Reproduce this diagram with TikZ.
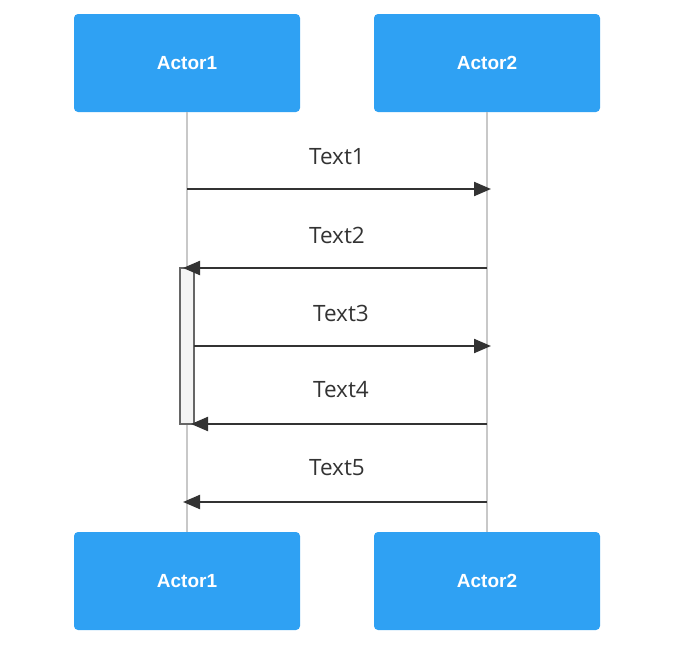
\documentclass[tikz,border=0pt]{standalone}
\usepackage{fontspec}
\setmainfont{Open Sans}
\newfontfamily\actorfont{Liberation Sans}
\usetikzlibrary{arrows.meta}
\definecolor{actorblue}{RGB}{47,161,243}
\definecolor{lifegray}{RGB}{200,200,200}
\definecolor{msgdark}{RGB}{51,51,51}
\definecolor{actfill}{RGB}{244,244,244}
\definecolor{actdraw}{RGB}{102,102,102}
\tikzset{
  actorbox/.style={fill=actorblue, draw=none, rounded corners=4pt, minimum width=226pt, minimum height=98pt, inner sep=0pt, text=white, font=\actorfont\bfseries\fontsize{19}{22}\selectfont},
  lifeline/.style={draw=lifegray, line width=2.5pt},
  msg/.style={draw=msgdark, line width=2.2pt, -{Triangle[length=17pt,width=14pt]}},
  msglabel/.style={text=msgdark, font=\fontsize{22.5}{26}\selectfont, inner sep=0pt},
  actbar/.style={fill=actfill, draw=actdraw, line width=1.3pt}
}
\begin{document}
\begin{tikzpicture}[x=1pt,y=-1pt]
\useasboundingbox (0,0) rectangle (675,646);
\node[actorbox] (a1t) at (187,63) {Actor1};
\node[actorbox] (a2t) at (487,63) {Actor2};
\node[actorbox] (a1b) at (187,581) {Actor1};
\node[actorbox] (a2b) at (487,581) {Actor2};
\draw[lifeline] (a1t.south) -- (a1b.north);
\draw[lifeline] (a2t.south) -- (a2b.north);
\draw[actbar] (180,268) rectangle (194,424);
\coordinate (p1a) at (187,189); \coordinate (p1b) at (491,189);
\coordinate (p2a) at (487,268); \coordinate (p2b) at (183,268);
\coordinate (p3a) at (194,346); \coordinate (p3b) at (491,346);
\coordinate (p4a) at (487,424); \coordinate (p4b) at (191,424);
\coordinate (p5a) at (487,502); \coordinate (p5b) at (183,502);
\draw[msg] (p1a) -- (p1b);
\draw[msg] (p2a) -- (p2b);
\draw[msg] (p3a) -- (p3b);
\draw[msg] (p4a) -- (p4b);
\draw[msg] (p5a) -- (p5b);
\node[msglabel] (t1) at (337,157) {Text1};
\node[msglabel] (t2) at (337,235) {Text2};
\node[msglabel] (t3) at (341,313) {Text3};
\node[msglabel] (t4) at (341,390) {Text4};
\node[msglabel] (t5) at (337,468) {Text5};
\end{tikzpicture}
\end{document}
